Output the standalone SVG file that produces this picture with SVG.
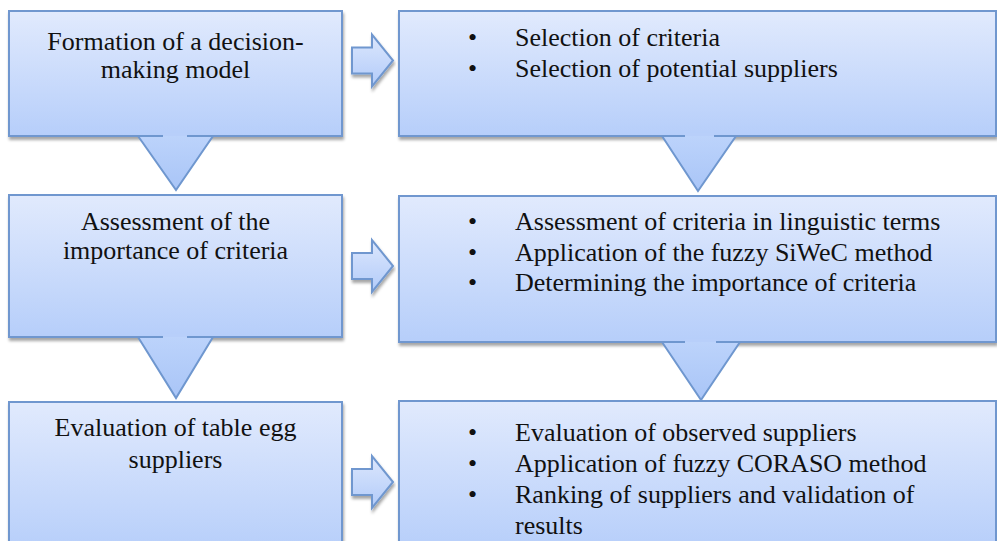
<svg xmlns="http://www.w3.org/2000/svg" width="997" height="541" viewBox="0 0 997 541">
<defs>
<linearGradient id="gBox" x1="0" y1="0" x2="0" y2="1"><stop offset="0" stop-color="#e1eafd"/><stop offset="1" stop-color="#b6cefa"/></linearGradient>
<linearGradient id="gTri" x1="0" y1="0" x2="0" y2="1"><stop offset="0" stop-color="#bcd3fb"/><stop offset="1" stop-color="#a9c5f7"/></linearGradient>
<linearGradient id="gArr" x1="0" y1="0" x2="0" y2="1"><stop offset="0" stop-color="#dce7fd"/><stop offset="1" stop-color="#b2cbf9"/></linearGradient>
<filter id="sh" x="-5%" y="-10%" width="110%" height="125%"><feDropShadow dx="1" dy="3" stdDeviation="1.4" flood-color="#000" flood-opacity="0.35"/></filter>
<style>
.box{fill:url(#gBox);stroke:#6f97cf;stroke-width:2;filter:url(#sh)}
.tri{fill:url(#gTri);stroke:none}
.edge{fill:none;stroke:#6f97cf;stroke-width:2;stroke-linejoin:miter}
.arr{fill:url(#gArr);stroke:#6f97cf;stroke-width:2;stroke-linejoin:miter;filter:url(#sh)}
text{font-family:"Liberation Serif","Times New Roman","DejaVu Serif",Times,serif;font-size:26px;fill:#111}
.c{text-anchor:middle}
</style>
</defs>

<g id="connectors">
  <path class="arr" d="M352,47.5 L372,47.5 L372,34.5 L393,60.5 L372,86.5 L372,73.5 L352,73.5 Z"/>
  <path class="arr" d="M352,253 L372,253 L372,240 L393,266 L372,292 L372,279 L352,279 Z"/>
  <path class="arr" d="M352,469 L372,469 L372,456 L393,482 L372,508 L372,495 L352,495 Z"/>
</g>

<g id="n1"><rect class="box" x="9" y="11" width="333" height="125"/>
  <text class="c" font-family="Liberation Serif" x="175.5" y="50">Formation of a decision-</text>
  <text class="c" font-family="Liberation Serif" x="175.5" y="78">making model</text></g>
<g id="n2"><rect class="box" x="399" y="11" width="597" height="125"/>
  <text font-family="Liberation Serif" x="468" y="46">•</text><text font-family="Liberation Serif" x="515" y="46">Selection of criteria</text>
  <text font-family="Liberation Serif" x="468" y="77">•</text><text font-family="Liberation Serif" x="515" y="77">Selection of potential suppliers</text></g>
<g id="n3"><rect class="box" x="9" y="195" width="333" height="142"/>
  <text class="c" font-family="Liberation Serif" x="175.5" y="230">Assessment of the</text>
  <text class="c" font-family="Liberation Serif" x="175.5" y="259">importance of criteria</text></g>
<g id="n4"><rect class="box" x="399" y="196" width="597" height="146"/>
  <text font-family="Liberation Serif" x="468" y="230">•</text><text font-family="Liberation Serif" x="515" y="230">Assessment of criteria in linguistic terms</text>
  <text font-family="Liberation Serif" x="468" y="261">•</text><text font-family="Liberation Serif" x="515" y="261">Application of the fuzzy SiWeC method</text>
  <text font-family="Liberation Serif" x="468" y="291">•</text><text font-family="Liberation Serif" x="515" y="291">Determining the importance of criteria</text></g>
<g id="n5"><rect class="box" x="9" y="402" width="333" height="150"/>
  <text class="c" font-family="Liberation Serif" x="175.5" y="436">Evaluation of table egg</text>
  <text class="c" font-family="Liberation Serif" x="175.5" y="468">suppliers</text></g>
<g id="n6"><rect class="box" x="399" y="401" width="597" height="150"/>
  <text font-family="Liberation Serif" x="468" y="441">•</text><text font-family="Liberation Serif" x="515" y="441">Evaluation of observed suppliers</text>
  <text font-family="Liberation Serif" x="468" y="472">•</text><text font-family="Liberation Serif" x="515" y="472">Application of fuzzy CORASO method</text>
  <text font-family="Liberation Serif" x="468" y="503">•</text><text font-family="Liberation Serif" x="515" y="503">Ranking of suppliers and validation of</text>
  <text font-family="Liberation Serif" x="515" y="534">results</text></g>

<g id="down-arrows">
  <rect x="163" y="133" width="24" height="5" fill="#b8cffa"/>
  <path class="tri" d="M138,136 L213,136 L176,190 Z"/>
  <path class="edge" d="M138,136 L163,136 M187,136 L213,136 L176,190 L138,136"/>
  <rect x="685" y="133" width="29" height="5" fill="#b8cffa"/>
  <path class="tri" d="M662,136 L736,136 L698,191 Z"/>
  <path class="edge" d="M662,136 L685,136 M714,136 L736,136 L698,191 L662,136"/>
  <rect x="163" y="334" width="24" height="5" fill="#b8cffa"/>
  <path class="tri" d="M138,337 L213,337 L176,398 Z"/>
  <path class="edge" d="M138,337 L163,337 M187,337 L213,337 L176,398 L138,337"/>
  <rect x="685" y="339" width="31" height="5" fill="#b8cffa"/>
  <path class="tri" d="M662,342 L740,342 L701,400 Z"/>
  <path class="edge" d="M662,342 L685,342 M716,342 L740,342 L701,400 L662,342"/>
</g>
</svg>
